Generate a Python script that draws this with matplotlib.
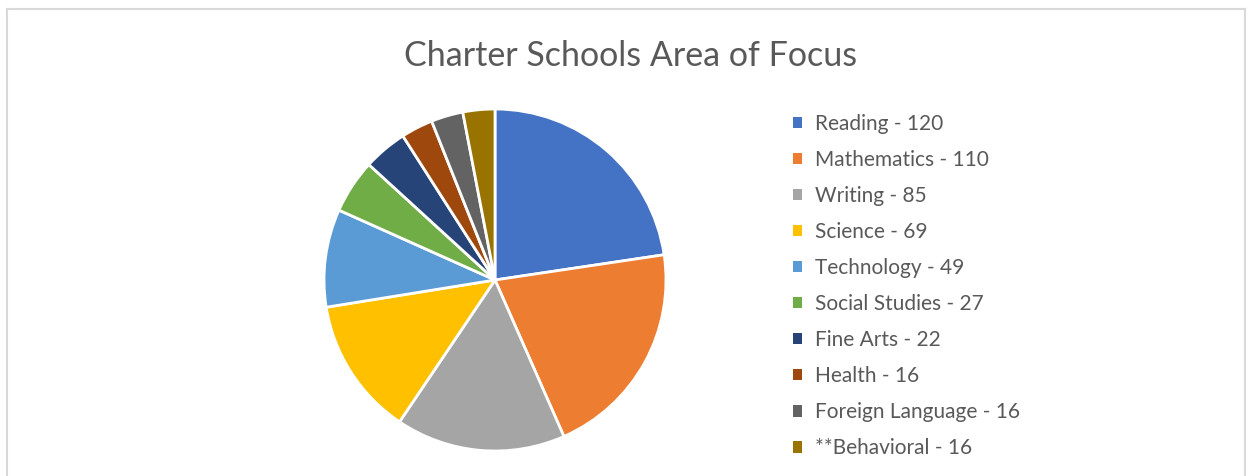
import matplotlib.pyplot as plt
from matplotlib.patches import Patch
from matplotlib.lines import Line2D

plt.rcParams['font.family'] = ['Lato', 'DejaVu Sans']

subjects = ['Reading', 'Mathematics', 'Writing', 'Science', 'Technology',
            'Social Studies', 'Fine Arts', 'Health', 'Foreign Language',
            '**Behavioral']
counts = [120, 110, 85, 69, 49, 27, 22, 16, 16, 16]
colors = ['#4472C4', '#ED7D31', '#A5A5A5', '#FFC000', '#5B9BD5',
          '#70AD47', '#264478', '#9E480E', '#636363', '#997300']

W, H = 1252, 476
fig = plt.figure(figsize=(W / 100, H / 100), dpi=100)

# light frame around the chart (bottom is cut off in the original)
fc = '#D9D9D9'
fig.add_artist(Line2D([7 / W, 1245 / W], [1 - 9 / H, 1 - 9 / H], color=fc, lw=1.5))
fig.add_artist(Line2D([7 / W, 7 / W], [0, 1 - 9 / H], color=fc, lw=1.5))
fig.add_artist(Line2D([1245 / W, 1245 / W], [0, 1 - 9 / H], color=fc, lw=1.5))

cx, cy, r = 495, 280, 171
ax = fig.add_axes([(cx - r) / W, (H - cy - r) / H, 2 * r / W, 2 * r / H])
ax.pie(counts, colors=colors, startangle=90, counterclock=False,
       wedgeprops=dict(edgecolor='white', linewidth=2))
ax.set_xlim(-1, 1)
ax.set_ylim(-1, 1)
ax.set_aspect('equal')
ax.axis('off')

fig.text(631 / W, 1 - 56 / H, 'Charter Schools Area of Focus', ha='center', va='center',
         fontsize=24.5, color='#595959')

labels = [f'{s} - {c}' for s, c in zip(subjects, counts)]
handles = [Patch(facecolor=c, edgecolor='none') for c in colors]
fig.legend(handles, labels, loc='upper left', bbox_to_anchor=(793 / W, 1 - 114 / H),
           frameon=False, fontsize=15, labelcolor='#595959',
           handlelength=0.45, handleheight=0.45, handletextpad=0.6,
           labelspacing=0.77, borderaxespad=0, borderpad=0)

fig.savefig('out.png', dpi=100)
